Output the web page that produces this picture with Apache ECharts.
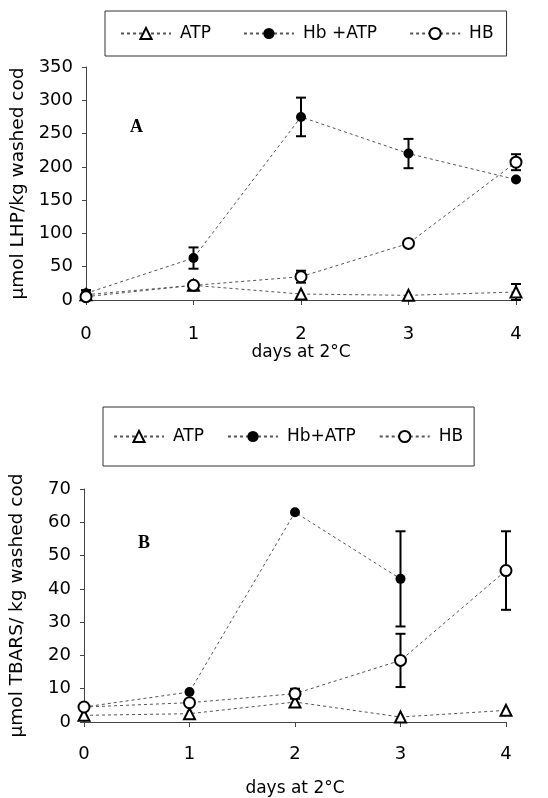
<!DOCTYPE html>
<html><head><meta charset="utf-8">
<script src="https://cdn.jsdelivr.net/npm/echarts@6/dist/echarts.min.js"></script>
<style>html,body{margin:0;padding:0;background:#fff}#c{width:548px;height:798px}</style>
</head><body><div id="c"></div>
<script>
const days = [0, 1, 2, 3, 4];
const xTicks = ['0', '1', '2', '3', '4'];

// Panel A: umol LHP/kg washed cod
const atpA = [8, 22, 9, 7, 12];
const atpAErr = [7, 0, 0, 0, 12];
const hbAtpA = [10, 63, 275, 220, 181];
const hbAtpAErr = [0, 16, 29, 22, 0];
const hbA = [5, 22, 35, 85, 207];
const hbAErr = [0, 4, 9, 0, 12];

// Panel B: umol TBARS/kg washed cod
const atpB = [2, 2.5, 6, 1.5, 3.5];
const atpBErr = [0, 0, 0, 0, 0];
const hbAtpB = [4.5, 9, 63, 43, null];
const hbAtpBErr = [0, 0, 0, 14.3, 0];
const hbB = [4.5, 5.8, 8.5, 18.5, 45.5];
const hbBErr = [0, 0, 1.5, 8, 11.8];

const FONT = '"DejaVu Sans", Arial, sans-serif';
const lineStyle = { color: '#555', width: 1, type: [3, 3] };

function pts(vals) { return days.map((d, i) => [d, vals[i]]).filter(p => p[1] != null); }
function errPts(vals, errs) {
  return days.map((d, i) => [d, vals[i], errs[i]]).filter(p => p[1] != null && p[2] > 0);
}
function lineSeries(name, vals, symbol, idx) {
  return {
    type: 'line', name: name, xAxisIndex: idx, yAxisIndex: idx,
    data: pts(vals), symbol: symbol, symbolSize: symbol === 'circle' ? 10 : 11,
    showSymbol: true, connectNulls: false, z: 5,
    lineStyle: lineStyle,
    itemStyle: { color: '#000', borderColor: '#000', borderWidth: symbol === 'circle' ? 0 : 1.8 },
    emphasis: { disabled: true }, animation: false
  };
}
function errSeries(vals, errs, idx) {
  return {
    type: 'custom', xAxisIndex: idx, yAxisIndex: idx, z: 3, silent: true,
    data: errPts(vals, errs), animation: false,
    renderItem: function (params, api) {
      const x = api.value(0), y = api.value(1), e = api.value(2);
      const t = api.coord([x, y + e]), b = api.coord([x, y - e]);
      const w = 5;
      const st = { stroke: '#000', lineWidth: 2 };
      return { type: 'group', children: [
        { type: 'line', shape: { x1: t[0], y1: t[1], x2: b[0], y2: b[1] }, style: st },
        { type: 'line', shape: { x1: t[0] - w, y1: t[1], x2: t[0] + w, y2: t[1] }, style: st },
        { type: 'line', shape: { x1: b[0] - w, y1: b[1], x2: b[0] + w, y2: b[1] }, style: st }
      ]};
    }
  };
}
function xAxis(idx, labelMargin, nameGap) {
  return {
    type: 'value', gridIndex: idx, min: 0, max: 4, interval: 1,
    name: 'days at 2°C', nameLocation: 'middle', nameGap: nameGap,
    nameTextStyle: { fontFamily: FONT, fontSize: 17, color: '#000' },
    axisLine: { lineStyle: { color: '#444', width: 1 } },
    axisTick: { show: true, length: 5, lineStyle: { color: '#444' } },
    axisLabel: { fontFamily: FONT, fontSize: 18, color: '#000', margin: labelMargin, formatter: v => xTicks[v] },
    splitLine: { show: false }
  };
}
function yAxis(idx, name, max, interval) {
  return {
    type: 'value', gridIndex: idx, min: 0, max: max, interval: interval,
    name: name, nameLocation: 'middle', nameGap: 57, nameRotate: 90,
    nameTextStyle: { fontFamily: FONT, fontSize: 18.5, color: '#000' },
    axisLine: { show: true, lineStyle: { color: '#444', width: 1 } },
    axisTick: { show: true, length: 4, lineStyle: { color: '#444' } },
    axisLabel: { fontFamily: FONT, fontSize: 18, color: '#000', margin: 13 },
    splitLine: { show: false }
  };
}
const legendText = { fontFamily: FONT, fontSize: 17, color: '#000', padding: [0, 0, 0, 4] };

const option = {
  backgroundColor: '#fff',
  animation: false,
  grid: [
    { left: 86, right: 32, top: 67, height: 233 },
    { left: 83, right: 42, top: 489, height: 234 }
  ],
  xAxis: [xAxis(0, 25, 40), xAxis(1, 23, 58)],
  yAxis: [
    yAxis(0, 'µmol LHP/kg washed cod', 350, 50),
    yAxis(1, 'µmol TBARS/ kg washed cod', 70, 10)
  ],
  legend: [
    { left: 105, top: 11, orient: 'horizontal', data: ['ATP ', 'Hb +ATP', 'HB '],
      formatter: n => n.trim(),
      borderColor: '#333', borderWidth: 1, padding: [14, 13, 14, 15],
      itemWidth: 50, itemHeight: 14, itemGap: 32, textStyle: legendText, selectedMode: false },
    { left: 103, top: 407, orient: 'horizontal', data: ['ATP', 'Hb+ATP', 'HB'],
      borderColor: '#333', borderWidth: 1, padding: [21, 11, 21, 10],
      itemWidth: 50, itemHeight: 14, itemGap: 23, textStyle: legendText, selectedMode: false }
  ],
  graphic: [
    { type: 'text', left: 130, top: 118, style: { text: 'A', font: 'bold 18px "Liberation Serif", serif', fill: '#000' } },
    { type: 'text', left: 138, top: 534, style: { text: 'B', font: 'bold 18px "Liberation Serif", serif', fill: '#000' } }
  ],
  series: [
    errSeries(atpA, atpAErr, 0),
    errSeries(hbAtpA, hbAtpAErr, 0),
    errSeries(hbA, hbAErr, 0),
    lineSeries('ATP ', atpA, 'emptyTriangle', 0),
    lineSeries('Hb +ATP', hbAtpA, 'circle', 0),
    lineSeries('HB ', hbA, 'emptyCircle', 0),
    errSeries(atpB, atpBErr, 1),
    errSeries(hbAtpB, hbAtpBErr, 1),
    errSeries(hbB, hbBErr, 1),
    lineSeries('ATP', atpB, 'emptyTriangle', 1),
    lineSeries('Hb+ATP', hbAtpB, 'circle', 1),
    lineSeries('HB', hbB, 'emptyCircle', 1)
  ]
};
const chart = echarts.init(document.getElementById('c'), null, { renderer: 'canvas' });
chart.setOption(option);
</script></body></html>
